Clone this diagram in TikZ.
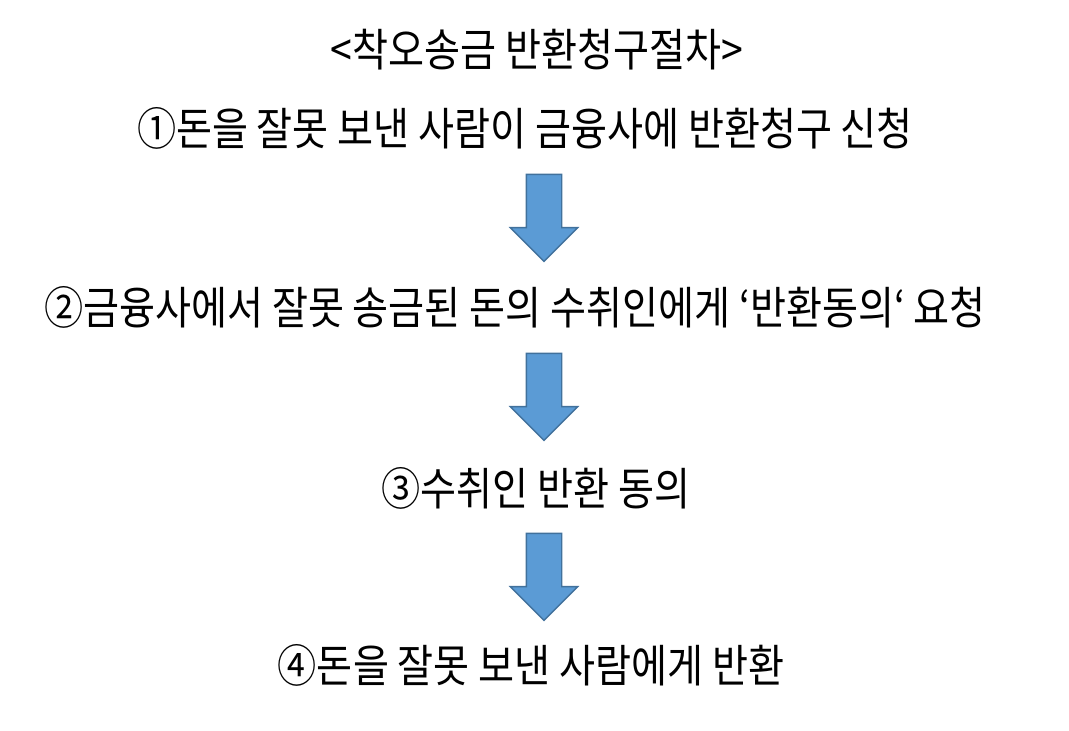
\documentclass[tikz,border=0pt]{standalone}
\usepackage{fontspec}
\setmainfont{Noto Sans CJK KR}[FakeStretch=0.87]
\usepackage{xcolor}
\usepackage{tikz}
\usetikzlibrary{shapes.arrows}
\definecolor{arrowfill}{HTML}{5B9BD5}
\definecolor{arrowline}{HTML}{41719C}
\tikzset{
  stepline/.style = {inner sep=0pt, font=\fontsize{12.8}{15}\selectfont},
  downarr/.style  = {single arrow, shape border rotate=270,
                     fill=arrowfill, draw=arrowline, line width=0.4pt,
                     inner sep=0.17cm, single arrow head extend=0.16cm,
                     single arrow tip angle=90, minimum height=0.87cm},
}
\begin{document}
\begin{tikzpicture}
  \useasboundingbox (0,0) rectangle (10.69,7.31);

  % Title
  \node[stepline] (title) at (5.37,6.81) {<착오송금 반환청구절차>};

  % Steps
  \node[stepline] (step1) at (5.25,6.03) {①돈을 잘못 보낸 사람이 금융사에 반환청구 신청};
  \node[stepline] (step2) at (5.15,4.24) {②금융사에서 잘못 송금된 돈의 수취인에게 ‘반환동의‘ 요청};
  \node[stepline] (step3) at (5.36,2.43) {③수취인 반환 동의};
  \node[stepline] (step4) at (5.31,0.66) {④돈을 잘못 보낸 사람에게 반환};

  % Block arrows
  \node[downarr] (arr1) at (5.44,5.22) {};
  \node[downarr] (arr2) at (5.44,3.43) {};
  \node[downarr] (arr3) at (5.44,1.63) {};
\end{tikzpicture}
\end{document}
